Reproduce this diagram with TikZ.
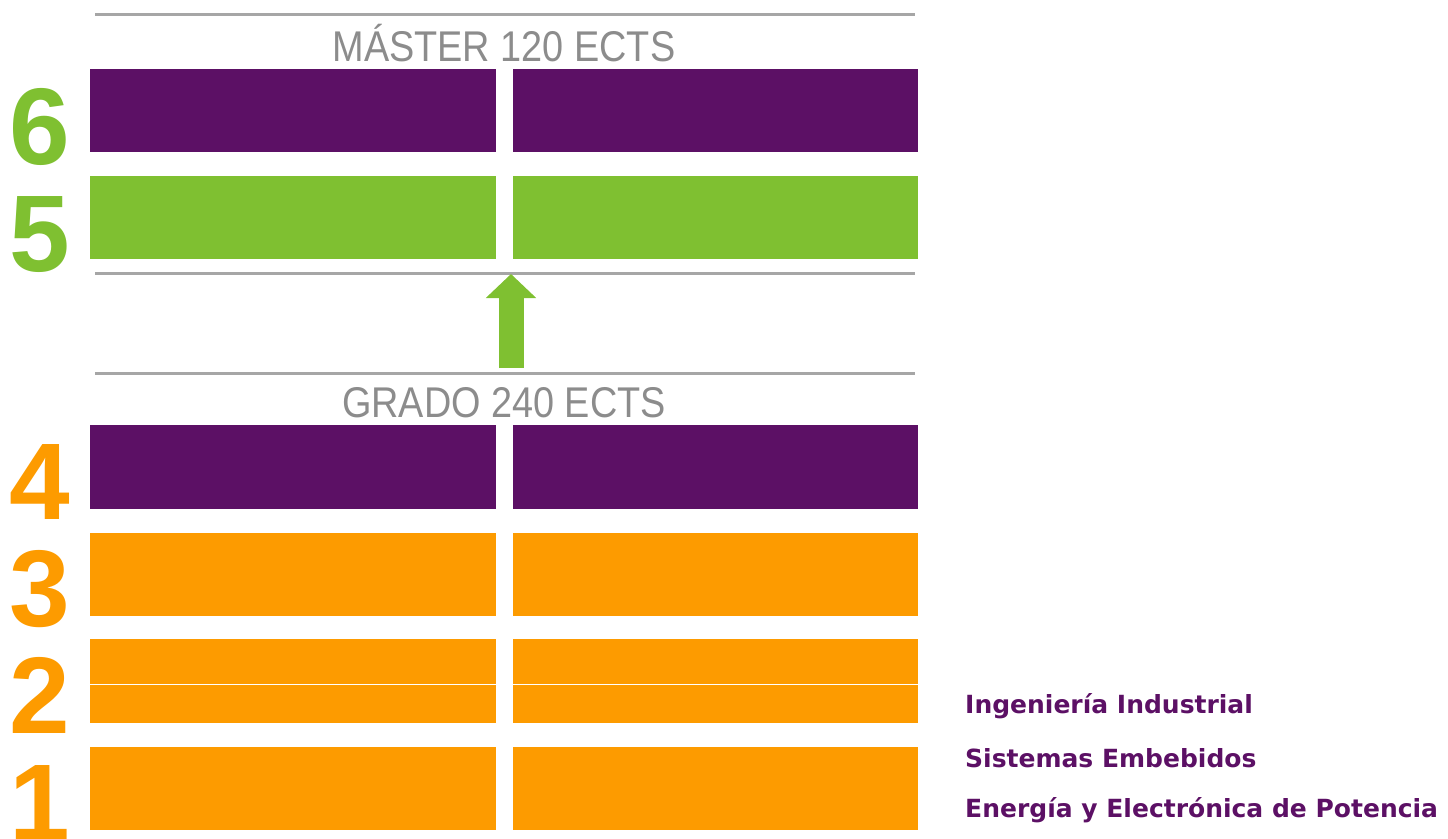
\documentclass[tikz,border=0pt]{standalone}
\usepackage{fontspec}
\setmainfont{Liberation Sans}
\newfontfamily\headfont[FakeStretch=0.88]{Liberation Sans}
\newfontfamily\legendfont{DejaVu Sans Bold}
\usetikzlibrary{arrows.meta}
\definecolor{upmpurple}{HTML}{5C1065}
\definecolor{upmgreen}{HTML}{7FC031}
\definecolor{upmorange}{HTML}{FD9B00}
\definecolor{rulegray}{HTML}{A6A6A6}
\definecolor{textgray}{HTML}{8C8C8C}

\begin{document}
\begin{tikzpicture}[x=1pt, y=-1pt,
    sep/.style={draw=rulegray, line width=3pt},
    title/.style={anchor=base, inner sep=0pt, text=textgray, font=\headfont\fontsize{43}{43}\selectfont},
    year/.style={anchor=base, inner sep=0pt, font=\bfseries\fontsize{109}{109}\selectfont},
    item/.style={anchor=base west, inner sep=0pt, text=upmpurple, font=\legendfont\fontsize{25}{25}\selectfont}]
    \useasboundingbox (0, 0) rectangle (1448, 838);
    % separators
    \draw[sep] (95, 14) -- (915, 14);
    \draw[sep] (95, 273) -- (915, 273);
    \draw[sep] (95, 373) -- (915, 373);
    \node[title] (master) at (504, 61) {MÁSTER 120 ECTS};
    \node[title] (grado) at (504, 417) {GRADO 240 ECTS};
    % course bars
    \foreach \ytop/\ybot/\barcol in {69/152/upmpurple, 176/259/upmgreen,
        425/509/upmpurple, 533/616/upmorange, 639/684/upmorange,
        685/723/upmorange, 747/830/upmorange} {
      \fill[\barcol] (90, \ytop) rectangle (496, \ybot);
      \fill[\barcol] (513, \ytop) rectangle (918, \ybot);
    }
    % years
    \node[year, text=upmgreen] (y6) at (40, 164) {6};
    \node[year, text=upmgreen] (y5) at (40, 271) {5};
    \node[year, text=upmorange] (y4) at (40, 519) {4};
    \node[year, text=upmorange] (y3) at (40, 626) {3};
    \node[year, text=upmorange] (y2) at (40, 733) {2};
    \node[year, text=upmorange] (y1) at (40, 840) {1};
    % grado -> master
    \coordinate (arrowfrom) at (511, 368);
    \coordinate (arrowto) at (511, 274);
    \draw[upmgreen, line width=25pt, -{Triangle[width=49pt, length=24pt]}] (arrowfrom) -- (arrowto);
    % legend
    \node[item] (ind) at (965, 713) {Ingeniería Industrial};
    \node[item] (emb) at (965, 767) {Sistemas Embebidos};
    \node[item] (pot) at (965, 817) {Energía y Electrónica de Potencia};
  \end{tikzpicture}
\end{document}
